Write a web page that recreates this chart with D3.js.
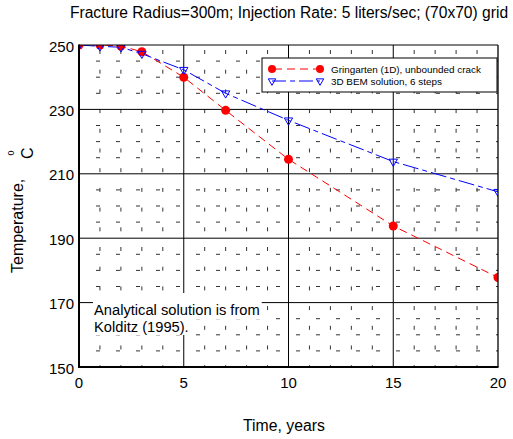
<!DOCTYPE html>
<html>
<head>
<meta charset="utf-8">
<script src="https://cdn.jsdelivr.net/npm/d3@7"></script>
<style>
  html, body { margin: 0; padding: 0; background: #fff; }
  svg { display: block; font-family: Arial, "Liberation Sans", Helvetica, sans-serif; }
</style>
</head>
<body>
<svg id="chart" width="513" height="439"></svg>
<script>
// ---- data ----
const years = [0, 1, 2, 3, 5, 7, 10, 15, 20];
const gringarten = [250, 250, 249.7, 247.9, 240.0, 229.7, 214.5, 193.8, 177.8];
const bem3d = [250, 249.6, 249.3, 247.3, 242.3, 235.0, 226.6, 213.8, 204.4];
const xTicks = [0, 5, 10, 15, 20];
const yTicks = [150, 170, 190, 210, 230, 250];
const xMinor = d3.range(0, 21, 1);
const yMinor = d3.range(150, 251, 5);
const titleText = "Fracture Radius=300m; Injection Rate: 5 liters/sec; (70x70) grid";
const xLabel = "Time, years";
const legendLabels = ["Gringarten (1D), unbounded crack", "3D BEM solution, 6 steps"];
const noteLines = ["Analytical solution is from", "Kolditz (1995)."];

// ---- layout ----
const svg = d3.select("#chart");
const L = 79, R = 498, T = 45, B = 367;
const x = d3.scaleLinear().domain([0, 20]).range([L, R]);
const y = d3.scaleLinear().domain([150, 250]).range([B, T]);

svg.append("defs").append("clipPath").attr("id", "plotclip")
  .append("rect").attr("x", L).attr("y", T).attr("width", R - L).attr("height", B - T);

const grid = svg.append("g");
// minor grid (dotted-looking)
grid.selectAll(".vminor").data(xMinor.filter(d => d % 5 !== 0)).join("line")
  .attr("x1", d => x(d)).attr("x2", d => x(d)).attr("y1", T).attr("y2", B)
  .attr("stroke", "#333").attr("stroke-width", 1)
  .attr("stroke-dasharray", "4,15.7").attr("stroke-dashoffset", 14.7);
grid.selectAll(".hminor").data(yMinor.filter(d => (d - 150) % 20 !== 0)).join("line")
  .attr("x1", L).attr("x2", R).attr("y1", d => y(d)).attr("y2", d => y(d))
  .attr("stroke", "#333").attr("stroke-width", 1)
  .attr("stroke-dasharray", "4,16").attr("stroke-dashoffset", 3);
// major grid
grid.selectAll(".vmajor").data(xTicks.slice(1, -1)).join("line")
  .attr("x1", d => x(d)).attr("x2", d => x(d)).attr("y1", T).attr("y2", B)
  .attr("stroke", "#000").attr("stroke-width", 1);
grid.selectAll(".hmajor").data(yTicks.slice(1, -1)).join("line")
  .attr("x1", L).attr("x2", R).attr("y1", d => y(d)).attr("y2", d => y(d))
  .attr("stroke", "#000").attr("stroke-width", 1);

// ---- data series ----
const plot = svg.append("g").attr("clip-path", "url(#plotclip)");
const line = d3.line().x(d => x(d[0])).y(d => y(d[1]));
const gData = years.map((t, i) => [t, gringarten[i]]);
const bData = years.map((t, i) => [t, bem3d[i]]);

plot.append("path").datum(gData).attr("d", line)
  .attr("fill", "none").attr("stroke", "#ff0000").attr("stroke-width", 1)
  .attr("stroke-dasharray", "8,5");
plot.append("path").datum(bData).attr("d", line)
  .attr("fill", "none").attr("stroke", "#0000ff").attr("stroke-width", 1)
  .attr("stroke-dasharray", "16,4,5,4");

const tri = d3.symbol().type(d3.symbolTriangle).size(30);
plot.selectAll(".gpt").data(gData).join("circle")
  .attr("cx", d => x(d[0])).attr("cy", d => y(d[1])).attr("r", 4.5)
  .attr("fill", "#ff0000");
plot.selectAll(".bpt").data(bData).join("path")
  .attr("d", tri)
  .attr("transform", d => `translate(${x(d[0])},${y(d[1])}) rotate(180)`)
  .attr("fill", "none").attr("stroke", "#0000ff").attr("stroke-width", 1);

// ---- frame ----
const frame = svg.append("g");
frame.append("line").attr("x1", L).attr("x2", R).attr("y1", T).attr("y2", T).attr("stroke", "#000").attr("stroke-width", 1);
frame.append("line").attr("x1", R).attr("x2", R).attr("y1", T).attr("y2", B).attr("stroke", "#000").attr("stroke-width", 1.3);
frame.append("line").attr("x1", L).attr("x2", L).attr("y1", T - 0.5).attr("y2", B + 1).attr("stroke", "#000").attr("stroke-width", 2);
frame.append("line").attr("x1", L - 1).attr("x2", R + 0.5).attr("y1", B).attr("y2", B).attr("stroke", "#000").attr("stroke-width", 2);

// ---- axes labels ----
svg.append("g").selectAll("text").data(xTicks).join("text")
  .attr("x", d => x(d)).attr("y", 388).attr("text-anchor", "middle")
  .attr("font-size", 15).attr("fill", "#000").text(d => d);
svg.append("g").selectAll("text").data(yTicks).join("text")
  .attr("x", 74).attr("y", d => y(d) + 6.5).attr("text-anchor", "end")
  .attr("font-size", 15).attr("fill", "#000").text(d => d);

svg.append("text").attr("x", 289).attr("y", 18).attr("text-anchor", "middle")
  .attr("font-size", 15.6).attr("fill", "#000").text(titleText);
svg.append("text").attr("x", 284).attr("y", 431).attr("text-anchor", "middle")
  .attr("font-size", 15.8).attr("fill", "#000").text(xLabel);

// y label (rotated)
svg.append("text").attr("transform", "translate(23,273) rotate(-90)")
  .attr("font-size", 16).attr("fill", "#000").text("Temperature,");
svg.append("text").attr("transform", "translate(13.5,155.5) rotate(-90)")
  .attr("font-size", 9).attr("fill", "#000").text("0");
svg.append("text").attr("transform", "translate(33,159) rotate(-90)")
  .attr("font-size", 16).attr("fill", "#000").text("C");

// ---- legend ----
const lg = svg.append("g");
lg.append("rect").attr("x", 262).attr("y", 58).attr("width", 235).attr("height", 34)
  .attr("fill", "#fff").attr("stroke", "#000").attr("stroke-width", 1);
const rows = [69, 81];
lg.append("line").attr("x1", 272).attr("x2", 320).attr("y1", rows[0]).attr("y2", rows[0])
  .attr("stroke", "#ff0000").attr("stroke-dasharray", "8,5").attr("stroke-dashoffset", -2);
lg.selectAll(".lc").data([272, 320]).join("circle")
  .attr("cx", d => d).attr("cy", rows[0]).attr("r", 4).attr("fill", "#ff0000");
lg.append("line").attr("x1", 272).attr("x2", 320).attr("y1", rows[1]).attr("y2", rows[1])
  .attr("stroke", "#0000ff").attr("stroke-dasharray", "14,4,5,4");
lg.selectAll(".lt").data([272, 320]).join("path")
  .attr("d", d3.symbol().type(d3.symbolTriangle).size(24))
  .attr("transform", d => `translate(${d},${rows[1]}) rotate(180)`)
  .attr("fill", "none").attr("stroke", "#0000ff");
lg.selectAll(".ltx").data(legendLabels).join("text")
  .attr("x", 331).attr("y", (d, i) => rows[i] + 3.5)
  .attr("font-size", 9.9).attr("fill", "#000").text(d => d);

// ---- annotation with per-line white background ----
const note = svg.append("g");
const noteY = [315, 331.5];
noteLines.forEach((s, i) => {
  const bg = note.append("rect").attr("fill", "#fff");
  const t = note.append("text").attr("x", 94).attr("y", noteY[i])
    .attr("font-size", 14.7).attr("fill", "#000").text(s);
  const bb = t.node().getBBox();
  const top = i === 0 ? 293 : noteY[0] + 4;
  const bot = i === 0 ? noteY[0] + 4 : 335;
  bg.attr("x", bb.x - 1).attr("y", top).attr("width", bb.width + 3).attr("height", bot - top);
});
</script>
</body>
</html>
